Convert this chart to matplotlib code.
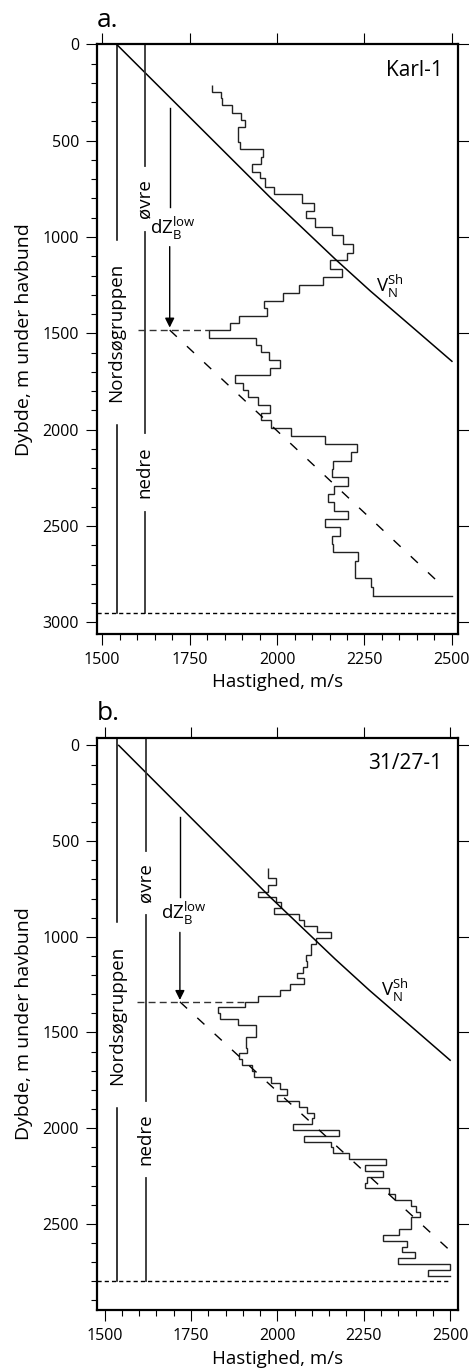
import matplotlib.pyplot as plt
from matplotlib.ticker import MultipleLocator

plt.rcParams['font.family'] = ['Open Sans', 'DejaVu Sans']
plt.rcParams['mathtext.fontset'] = 'custom'
plt.rcParams['mathtext.rm'] = 'Open Sans'

V_MAX = 2500

# normal compaction trend for shale, depth (m) / velocity (m/s)
trend_z = [0, 794, 1116, 1279, 1479, 1645]
trend_v = [1541, 1980, 2167, 2266, 2394, 2500]

# ---- Karl-1 ----
a_edges = [211, 246, 280, 315, 355, 393, 431, 505, 545, 587, 623, 661, 695,
           739, 779, 822, 864, 903, 947, 990, 1036, 1081, 1119, 1168, 1206,
           1249, 1292, 1330, 1370, 1410, 1448, 1483, 1523, 1560, 1599, 1638,
           1678, 1716, 1756, 1794, 1832, 1872, 1912, 1950, 1990, 2031, 2074,
           2118, 2161, 2206, 2247, 2291, 2334, 2377, 2420, 2464, 2507, 2550,
           2593, 2637, 2680, 2772, 2815, 2862]
a_vel = [1813, 1839, 1843, 1872, 1897, 1908, 1889, 1893, 1960, 1954, 1927,
         1951, 1965, 1990, 2072, 2106, 2084, 2108, 2156, 2189, 2218, 2199,
         2151, 2185, 2132, 2062, 2016, 1962, 1970, 1892, 1865, 1806, 1940,
         1953, 1978, 2008, 1981, 1879, 1903, 1918, 1946, 1981, 1953, 1984,
         2041, 2137, 2229, 2210, 2161, 2156, 2204, 2163, 2146, 2163, 2204,
         2137, 2180, 2156, 2161, 2232, 2223, 2268, 2273]
a_nord_x = 1541
a_nord_segs = [(0, 1016), (1976, 2953)]
a_nord_mid = 1496
a_zone_x = 1621
a_zone_segs = [(0, 630), (975, 2018), (2425, 2953)]
a_ovre_mid = 802
a_nedre_mid = 2221
a_base_z = 2953
a_dz_x = 1693
a_dz_line = [(332, 843), (1050, 1470)]
a_dz_label_z = 955
a_bnd_z = 1483
a_bnd_v = (1603, 1806)
a_low_v = [1693, 2470]
a_low_z = [1483, 2806]
a_vlabel = (2323, 1258)

# ---- 31/27-1 ----
b_edges = [640, 695, 730, 765, 791, 820, 852, 881, 913, 942, 974, 1008, 1038,
           1096, 1125, 1157, 1188, 1217, 1247, 1278, 1310, 1339, 1369, 1400,
           1430, 1461, 1522, 1583, 1609, 1639, 1670, 1700, 1731, 1766, 1797,
           1827, 1857, 1888, 1920, 1949, 1979, 2010, 2041, 2071, 2100, 2132,
           2161, 2193, 2223, 2254, 2285, 2315, 2344, 2376, 2405, 2437, 2466,
           2527, 2559, 2588, 2620, 2649, 2680, 2710, 2741, 2771]
b_vel = [1974, 1996, 1974, 1943, 1995, 2010, 1990, 2064, 2078, 2114, 2155,
         2112, 2097, 2082, 2087, 2073, 2058, 2078, 2037, 2008, 1945, 1906,
         1827, 1834, 1887, 1938, 1908, 1913, 1890, 1899, 1926, 1933, 1982,
         2008, 2029, 1998, 2063, 2085, 2107, 2101, 2044, 2178, 2078, 2154,
         2162, 2208, 2314, 2254, 2307, 2259, 2254, 2323, 2341, 2387, 2401,
         2413, 2387, 2352, 2305, 2376, 2362, 2399, 2350, 2500, 2437]
b_nord_x = 1536
b_nord_segs = [(-40, 921), (1897, 2799)]
b_nord_mid = 1410
b_zone_x = 1619
b_zone_segs = [(-40, 551), (887, 1857), (2262, 2799)]
b_ovre_mid = 719
b_nedre_mid = 2060
b_base_z = 2799
b_dz_x = 1718
b_dz_line = [(373, 791), (977, 1330)]
b_dz_label_z = 878
b_bnd_z = 1340
b_bnd_v = (1594, 1906)
b_low_v = [1718, 2500]
b_low_z = [1340, 2640]
b_vlabel = (2341, 1278)


def draw_panel(ax, well, edges, vel, nord_x, nord_segs, nord_mid, zone_x,
               zone_segs, ovre_mid, nedre_mid, base_z, dz_x, dz_line,
               dz_label_z, bnd_z, bnd_v, low_v, low_z, vlabel, xlim, ylim,
               base_xmax):
    ax.set_xlim(xlim)
    ax.set_ylim(ylim)

    # interval velocities
    ax.stairs(vel, edges, orientation='horizontal', baseline=None,
              color='#222222', lw=1.0)
    ax.plot([vel[-1], V_MAX], [edges[-1], edges[-1]], color='#222222', lw=1.0)

    # shale trend
    ax.plot(trend_v, trend_z, color='k', lw=1.1)
    ax.text(vlabel[0], vlabel[1], r'V$_\mathregular{N}^\mathregular{Sh}$',
            fontsize=13.5, ha='center', va='center')

    # lower trend line below dZ
    ax.plot(low_v, low_z, color='k', lw=1.0, dashes=(7, 10))

    # formation columns
    for z0, z1 in nord_segs:
        ax.plot([nord_x, nord_x], [z0, z1], color='k', lw=1.1)
    for z0, z1 in zone_segs:
        ax.plot([zone_x, zone_x], [z0, z1], color='#333333', lw=1.3)
    ax.text(nord_x, nord_mid, 'Nordsøgruppen', rotation=90, fontsize=13.5,
            ha='center', va='center')
    ax.text(zone_x, ovre_mid, 'øvre', rotation=90, fontsize=13.5,
            ha='center', va='center')
    ax.text(zone_x, nedre_mid, 'nedre', rotation=90, fontsize=13.5,
            ha='center', va='center')
    ax.plot([xlim[0], base_xmax], [base_z, base_z], color='k', lw=1.0,
            dashes=(3, 2.2))

    # dZ arrow
    ax.plot([dz_x, dz_x], dz_line[0], color='k', lw=1.0)
    ax.annotate('', xy=(dz_x, dz_line[1][1]), xytext=(dz_x, dz_line[1][0]),
                arrowprops=dict(arrowstyle='-|>', color='k', lw=1.0,
                                mutation_scale=14, shrinkA=0, shrinkB=0))
    ax.text(dz_x + 10, dz_label_z,
            r'dZ$_\mathregular{B}^\mathregular{low}$', fontsize=13.5,
            ha='center', va='center')
    ax.plot(bnd_v, [bnd_z, bnd_z], color='#333333', lw=1.0, dashes=(5, 3))

    ax.text(0.958, 0.955, well, transform=ax.transAxes, fontsize=15,
            ha='right', va='center')

    ax.xaxis.set_major_locator(MultipleLocator(250))
    ax.xaxis.set_minor_locator(MultipleLocator(50))
    ax.yaxis.set_major_locator(MultipleLocator(500))
    ax.yaxis.set_minor_locator(MultipleLocator(100))
    ax.tick_params(which='both', direction='out', width=0.8, pad=5)
    ax.tick_params(which='major', length=7.7, top=True, right=True,
                   labelsize=11.5)
    ax.tick_params(which='minor', length=4, top=False, right=False)
    for sp in ax.spines.values():
        sp.set_linewidth(1.6)

    ax.set_xlabel('Hastighed, m/s', fontsize=13.5, va='center')
    ax.set_ylabel('Dybde, m under havbund', fontsize=14, va='center')
    ax.yaxis.set_label_coords(-0.201, 0.5)


fig = plt.figure(figsize=(4.69, 13.71), dpi=100)
ax_a = fig.add_axes([0.206, 0.5373, 0.771, 0.4304])
ax_b = fig.add_axes([0.206, 0.0445, 0.770, 0.4174])

draw_panel(ax_a, 'Karl-1', a_edges, a_vel, a_nord_x, a_nord_segs, a_nord_mid,
           a_zone_x, a_zone_segs, a_ovre_mid, a_nedre_mid, a_base_z, a_dz_x,
           a_dz_line, a_dz_label_z, a_bnd_z, a_bnd_v, a_low_v, a_low_z,
           a_vlabel, (1484, 2518), (3062, 0), 2518)
ax_a.xaxis.set_label_coords(0.5, -0.081)

draw_panel(ax_b, '31/27-1', b_edges, b_vel, b_nord_x, b_nord_segs, b_nord_mid,
           b_zone_x, b_zone_segs, b_ovre_mid, b_nedre_mid, b_base_z, b_dz_x,
           b_dz_line, b_dz_label_z, b_bnd_z, b_bnd_v, b_low_v, b_low_z,
           b_vlabel, (1477, 2522), (2950, -40), 2500)
ax_b.xaxis.set_label_coords(0.5, -0.0856)

fig.text(97 / 469, 1 - 27 / 1371, 'a.', fontsize=19, ha='left', va='baseline')
fig.text(97 / 469, 1 - 720 / 1371, 'b.', fontsize=19, ha='left', va='baseline')

fig.savefig('out.png', dpi=100)
